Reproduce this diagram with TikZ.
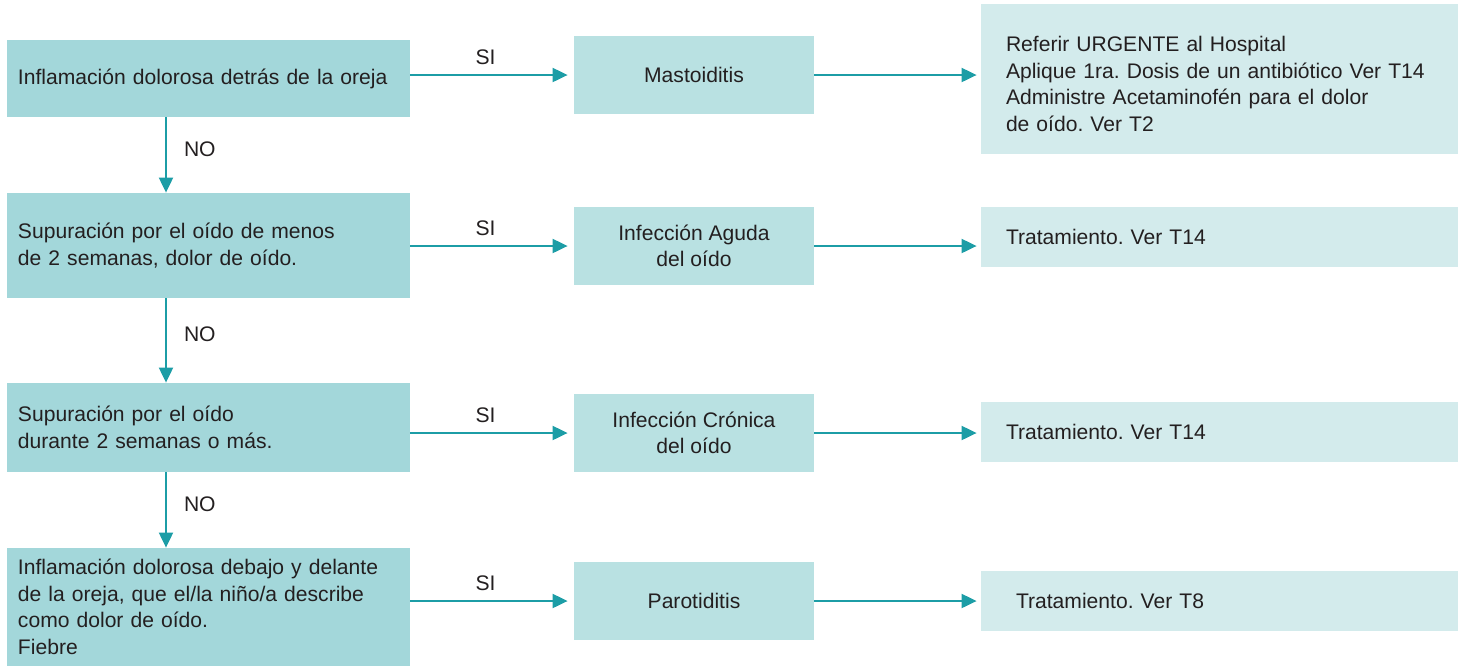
\documentclass[tikz,border=0pt]{standalone}
\usepackage{fontspec}
\setmainfont{Liberation Sans}
\usepackage{tikz}
\usetikzlibrary{positioning,arrows.meta}
\definecolor{cajaizq}{HTML}{A3D7DA}
\definecolor{cajamed}{HTML}{B9E1E2}
\definecolor{cajader}{HTML}{D3EBEC}
\definecolor{linea}{HTML}{1C9DA6}
\definecolor{texto}{HTML}{231F20}
\frenchspacing
\tikzset{cond/.style = {fill=cajaizq,text=texto,inner xsep=5.5pt,inner ysep=0pt,text width=190.5pt,align=left,font=\fontsize{10.55}{13.3}\selectfont},
         diag/.style = {fill=cajamed,text=texto,minimum width=120pt,minimum height=39pt,inner sep=0pt,align=center,font=\fontsize{10.55}{13.3}\selectfont},
         trat/.style = {fill=cajader,text=texto,inner xsep=12.5pt,inner ysep=0pt,text width=213.5pt,minimum height=30pt,align=left,font=\fontsize{10.55}{13.3}\selectfont},
         flecha/.style = {draw=linea,line width=1pt,-{Triangle[length=7.5pt,width=7pt]}},
         etiq/.style = {text=texto,inner sep=0pt,font=\fontsize{10.55}{13.3}\selectfont}}
\begin{document}
\begin{tikzpicture}[x=0.5pt,y=-0.5pt]
    \useasboundingbox (0,0) rectangle (1458,666);
    % izquierda
    \node[cond,minimum height=38.5pt] (c1) at (208.5,78.5) {Inflamación dolorosa detrás de la oreja};
    \node[cond,minimum height=52.5pt] (c2) at (208.5,245.5) {Supuración por el oído de menos\\de 2 semanas, dolor de oído.};
    \node[cond,minimum height=44.5pt] (c3) at (208.5,427.5) {Supuración por el oído\\durante 2 semanas o más.};
    \node[cond,minimum height=59pt] (c4) at (208.5,607) {Inflamación dolorosa debajo y delante\\de la oreja, que el/la niño/a describe\\como dolor de oído.\\Fiebre};
    % centro
    \node[diag] (d1) at (694,75) {Mastoiditis};
    \node[diag] (d2) at (694,246) {Infección Aguda\\del oído};
    \node[diag] (d3) at (694,433) {Infección Crónica\\del oído};
    \node[diag] (d4) at (694,601) {Parotiditis};
    % derecha
    \node[trat,minimum height=75pt] (t1) at (1219.5,79) {\rule{0pt}{12.6pt}Referir URGENTE al Hospital\\Aplique 1ra. Dosis de un antibiótico Ver T14\\Administre Acetaminofén para el dolor\\de oído. Ver T2};
    \node[trat] (t2) at (1219.5,237) {Tratamiento. Ver T14};
    \node[trat] (t3) at (1219.5,432) {Tratamiento. Ver T14};
    \node[trat] (t4) at (1219.5,601) {\hspace*{5pt}Tratamiento. Ver T8};
    \foreach \i in {1,2,3,4}{
        \draw[flecha,shorten >=3pt] (c\i.east |- d\i) -- node[etiq,pos=0.46,above=4.5pt] (si\i) {SI} (d\i.west);
        \draw[flecha,shorten >=2pt] (d\i.east) -- (d\i.east -| t\i.west);}
    \foreach \a/\b in {1/2,2/3,3/4}
        \draw[flecha] (c\a.south -| 166,0) -- node[etiq,pos=0.42,right=8.5pt] (no\a) {NO} (c\b.north -| 166,0);
\end{tikzpicture}
\end{document}
